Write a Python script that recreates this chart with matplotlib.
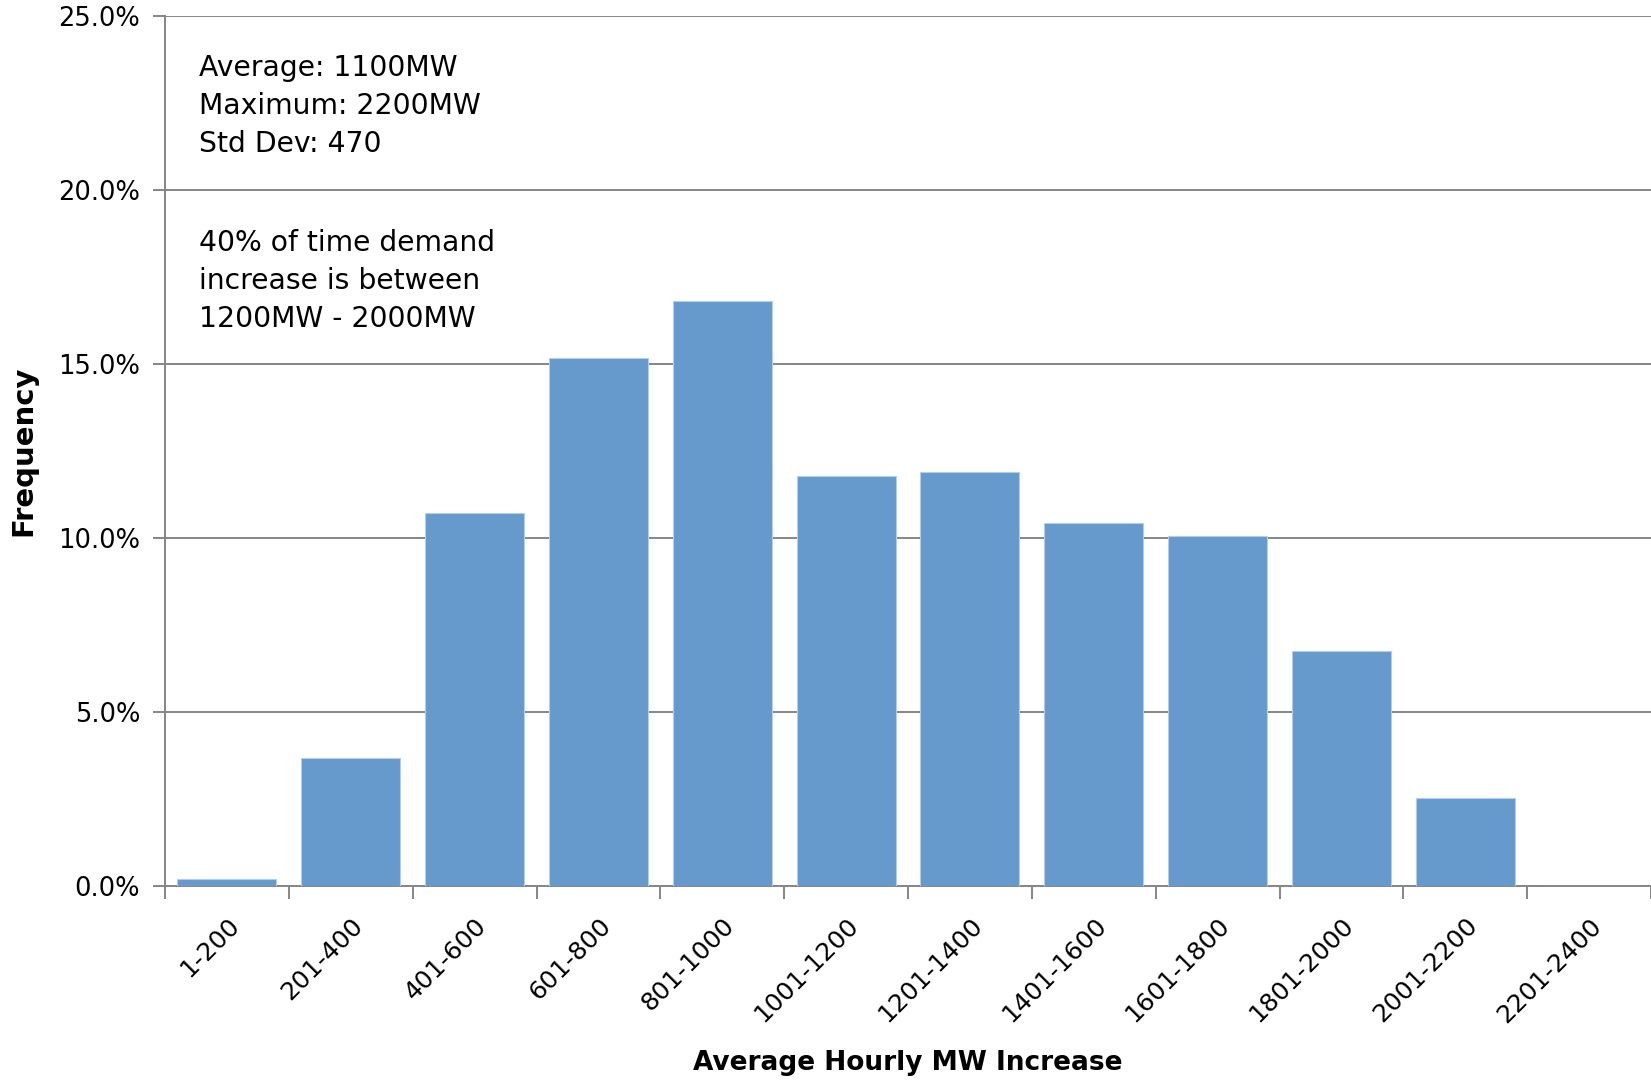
import numpy as np
import matplotlib
matplotlib.use("Agg")
import matplotlib.pyplot as plt
import matplotlib.transforms as mtransforms
from matplotlib.ticker import FuncFormatter

# hourly demand increase bins and share of hours in each (%)
bins = ["1-200", "201-400", "401-600", "601-800", "801-1000", "1001-1200",
        "1201-1400", "1401-1600", "1601-1800", "1801-2000", "2001-2200", "2201-2400"]
freq = [0.18, 3.66, 10.72, 15.17, 16.80, 11.78, 11.88, 10.44, 10.05, 6.76, 2.51, 0.0]
yticks = [0, 5, 10, 15, 20, 25]

stats_note = "Average: 1100MW\nMaximum: 2200MW\nStd Dev: 470"
range_note = "40% of time demand\nincrease is between\n1200MW - 2000MW"

grey = "#868686"

fig = plt.figure(figsize=(16.51, 10.81), dpi=100)
ax = fig.add_axes([0.09994, 0.18067, 0.90006, 0.80453])

x = np.arange(len(bins))
ax.bar(x, freq, width=0.8, color="#6699cc", edgecolor="#b4cdea", linewidth=0.8, zorder=3)

ax.set_xlim(-0.5, len(bins) - 0.5)
ax.set_ylim(0, 25)
ax.set_yticks(yticks)
ax.yaxis.set_major_formatter(FuncFormatter(lambda v, p: f"{v:.1f}%"))
ax.grid(axis="y", color=grey, linewidth=1.4, zorder=0)
ax.set_axisbelow(True)

# tick marks sit on the bin edges, labels on the bin centres
ax.set_xticks(np.arange(-0.5, len(bins), 1))
ax.set_xticklabels([])
ax.set_xticks(x, minor=True)
ax.set_xticklabels(bins, minor=True, rotation=45, ha="right", va="top",
                   rotation_mode="anchor", fontsize=18)
shift = mtransforms.ScaledTranslation(4 / 100, 0, fig.dpi_scale_trans)
for lab in ax.get_xticklabels(minor=True):
    lab.set_transform(lab.get_transform() + shift)

ax.tick_params(axis="x", which="major", direction="out", length=9, width=1.4, color=grey)
ax.tick_params(axis="x", which="minor", length=0, pad=20)
ax.tick_params(axis="y", direction="out", length=9, width=1.4, color=grey,
               labelsize=18.5, pad=9)

for side in ["top", "right"]:
    ax.spines[side].set_visible(False)
for side in ["left", "bottom"]:
    ax.spines[side].set_color(grey)
    ax.spines[side].set_linewidth(1.4)

ax.set_xlabel("Average Hourly MW Increase", fontsize=19, fontweight="bold")
ax.xaxis.set_label_coords(0.5, -0.189)
ax.set_ylabel("Frequency", fontsize=21, fontweight="bold")
ax.yaxis.set_label_coords(-0.086, 0.5)

ax.text(-0.226, 23.9, stats_note, fontsize=20.3, va="top", ha="left", linespacing=1.45)
ax.text(-0.226, 18.88, range_note, fontsize=20.3, va="top", ha="left", linespacing=1.45)

fig.savefig("out.png", dpi=100, facecolor="white")
